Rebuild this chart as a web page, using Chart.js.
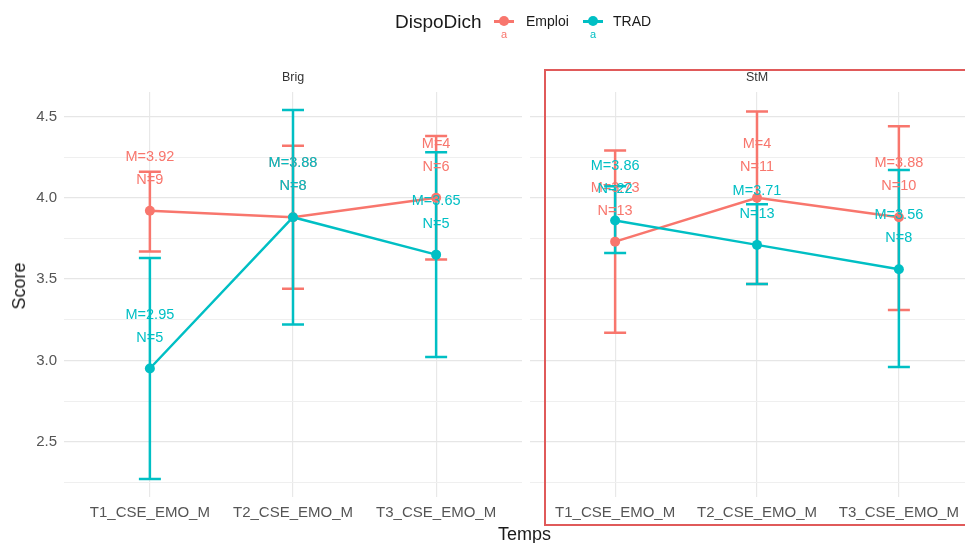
<!DOCTYPE html>
<html>
<head>
<meta charset="utf-8">
<script src="https://cdn.jsdelivr.net/npm/chart.js@4.4.1/dist/chart.umd.min.js"></script>
<style>
  body { margin: 0; background: #fff; font-family: "Liberation Sans", Arial, sans-serif; }
  #wrap { position: relative; width: 965px; height: 543px; overflow: hidden; background: #fff; }
  canvas { position: absolute; top: 0; }
  .t { position: absolute; white-space: nowrap; transform: translateY(-50%); color: #1a1a1a; }
  .key { position: absolute; height: 3px; }
  .dot { position: absolute; width: 10px; height: 10px; border-radius: 50%; }
</style>
</head>
<body>
<div id="wrap">
  <canvas id="brig" width="527" height="543" style="left:0"></canvas>
  <canvas id="stm" width="465" height="543" style="left:525px"></canvas>

  <div class="t" style="left:395px;top:22px;font-size:19px">DispoDich</div>
  <div class="key" style="left:494px;top:20px;width:20px;background:#F8766D"></div>
  <div class="dot" style="left:499px;top:16px;background:#F8766D"></div>
  <div class="t" style="left:501px;top:34px;font-size:11px;color:#F8766D">a</div>
  <div class="t" style="left:526px;top:21px;font-size:14px">Emploi</div>
  <div class="key" style="left:583px;top:20px;width:20px;background:#00BFC4"></div>
  <div class="dot" style="left:588px;top:16px;background:#00BFC4"></div>
  <div class="t" style="left:590px;top:34px;font-size:11px;color:#00BFC4">a</div>
  <div class="t" style="left:613px;top:21px;font-size:14px">TRAD</div>

  <div class="t" style="left:498px;top:534px;font-size:18px">Temps</div>
  <div class="t" style="left:-4px;top:286px;font-size:18px;transform:translate(0,-50%) rotate(-90deg)">Score</div>

  <div style="position:absolute;left:544px;top:69px;width:440px;height:457px;border:2px solid #e05a5a;box-sizing:border-box"></div>
</div>

<script>
var categories = ["T1_CSE_EMO_M", "T2_CSE_EMO_M", "T3_CSE_EMO_M"];
var yTicks = [2.5, 3.0, 3.5, 4.0, 4.5];
var yMinor = [2.25, 2.75, 3.25, 3.75, 4.25];

var emploiColor = "#F8766D";
var tradColor = "#00BFC4";

// Brig
var brigEmploiMean = [3.92, 3.88, 4.00];
var brigEmploiLow = [3.67, 3.44, 3.62];
var brigEmploiHigh = [4.16, 4.32, 4.38];
var brigEmploiN = [9, 8, 6];
var brigTradMean = [2.95, 3.88, 3.65];
var brigTradLow = [2.27, 3.22, 3.02];
var brigTradHigh = [3.63, 4.54, 4.28];
var brigTradN = [5, 8, 5];

// StM
var stmEmploiMean = [3.73, 4.00, 3.88];
var stmEmploiLow = [3.17, 3.47, 3.31];
var stmEmploiHigh = [4.29, 4.53, 4.44];
var stmEmploiN = [13, 11, 10];
var stmTradMean = [3.86, 3.71, 3.56];
var stmTradLow = [3.66, 3.47, 2.96];
var stmTradHigh = [4.07, 3.96, 4.17];
var stmTradN = [22, 13, 8];

var FONT = '"Liberation Sans", Arial, sans-serif';

var errorBars = {
  id: "errorBars",
  beforeDatasetsDraw: function (chart, args, opts) {
    var ctx = chart.ctx, x = chart.scales.x, y = chart.scales.y;
    opts.groups.forEach(function (g) {
      ctx.save();
      ctx.strokeStyle = g.color;
      ctx.lineWidth = 2.5;
      g.low.forEach(function (lo, i) {
        var px = x.getPixelForValue(i + 1);
        var a = y.getPixelForValue(lo), b = y.getPixelForValue(g.high[i]);
        ctx.beginPath();
        ctx.moveTo(px, a); ctx.lineTo(px, b);
        ctx.moveTo(px - 11, a); ctx.lineTo(px + 11, a);
        ctx.moveTo(px - 11, b); ctx.lineTo(px + 11, b);
        ctx.stroke();
      });
      ctx.restore();
    });
  },
  afterDatasetsDraw: function (chart, args, opts) {
    var ctx = chart.ctx, x = chart.scales.x, y = chart.scales.y, area = chart.chartArea;
    ctx.save();
    ctx.textAlign = "center";
    ctx.textBaseline = "middle";
    ctx.font = "14.5px " + FONT;
    opts.groups.forEach(function (g) {
      ctx.fillStyle = g.color;
      g.mean.forEach(function (m, i) {
        var px = x.getPixelForValue(i + 1), py = y.getPixelForValue(m);
        ctx.fillText("M=" + (+m.toFixed(2)), px, py - 54);
        ctx.fillText("N=" + g.n[i], px, py - 31);
      });
    });
    // strip label
    ctx.fillStyle = "#333";
    ctx.font = "12.5px " + FONT;
    ctx.fillText(opts.title, (area.left + area.right) / 2, 78);
    ctx.restore();
  }
};

function makeChart(id, title, emp, trad, showY, pad) {
  return new Chart(document.getElementById(id), {
    type: "line",
    data: {
      datasets: [{
        label: "Emploi",
        data: emp.mean.map(function (m, i) { return { x: i + 1, y: m }; }),
        borderColor: emploiColor,
        backgroundColor: emploiColor,
        pointBackgroundColor: emploiColor,
        borderWidth: 2.5,
        pointRadius: 5,
        pointBorderWidth: 0,
        order: 1
      }, {
        label: "TRAD",
        data: trad.mean.map(function (m, i) { return { x: i + 1, y: m }; }),
        borderColor: tradColor,
        backgroundColor: tradColor,
        pointBackgroundColor: tradColor,
        borderWidth: 2.5,
        pointRadius: 5,
        pointBorderWidth: 0,
        order: 0
      }]
    },
    options: {
      responsive: false,
      animation: false,
      events: [],
      layout: { padding: { top: 92, bottom: 0, left: pad.left, right: pad.right } },
      plugins: {
        legend: { display: false },
        tooltip: { enabled: false },
        errorBars: {
          title: title,
          groups: [
            { color: emploiColor, mean: emp.mean, low: emp.low, high: emp.high, n: emp.n },
            { color: tradColor, mean: trad.mean, low: trad.low, high: trad.high, n: trad.n }
          ]
        }
      },
      scales: {
        x: {
          type: "linear",
          min: 0.4,
          max: 3.6,
          afterBuildTicks: function (s) { s.ticks = [1, 2, 3].map(function (v) { return { value: v }; }); },
          afterFit: function (s) { s.height = 46; },
          border: { display: false },
          grid: { color: "#e8e8e8", lineWidth: 1.2, drawTicks: false },
          ticks: {
            autoSkip: false,
            maxRotation: 0,
            padding: 7,
            color: "#555",
            font: { family: FONT, size: 15 },
            callback: function (v) { return categories[v - 1]; }
          }
        },
        y: {
          min: 2.16,
          max: 4.65,
          afterBuildTicks: function (s) {
            s.ticks = yMinor.concat(yTicks).sort(function (a, b) { return a - b; })
              .map(function (v) { return { value: v }; });
          },
          afterFit: function (s) { s.width = showY ? 64 : 0; },
          border: { display: false },
          grid: {
            drawTicks: false,
            color: function (c) { return yTicks.indexOf(c.tick.value) >= 0 ? "#e6e6e6" : "#efefef"; },
            lineWidth: function (c) { return yTicks.indexOf(c.tick.value) >= 0 ? 1.2 : 1; }
          },
          ticks: {
            display: showY,
            padding: 7,
            color: "#555",
            font: { family: FONT, size: 15 },
            callback: function (v) { return yTicks.indexOf(v) >= 0 ? v.toFixed(1) : ""; }
          }
        }
      }
    },
    plugins: [errorBars]
  });
}

makeChart("brig", "Brig",
  { mean: brigEmploiMean, low: brigEmploiLow, high: brigEmploiHigh, n: brigEmploiN },
  { mean: brigTradMean, low: brigTradLow, high: brigTradHigh, n: brigTradN },
  true, { left: 0, right: 5 });

makeChart("stm", "StM",
  { mean: stmEmploiMean, low: stmEmploiLow, high: stmEmploiHigh, n: stmEmploiN },
  { mean: stmTradMean, low: stmTradLow, high: stmTradHigh, n: stmTradN },
  false, { left: 5, right: 6 });
</script>
</body>
</html>
